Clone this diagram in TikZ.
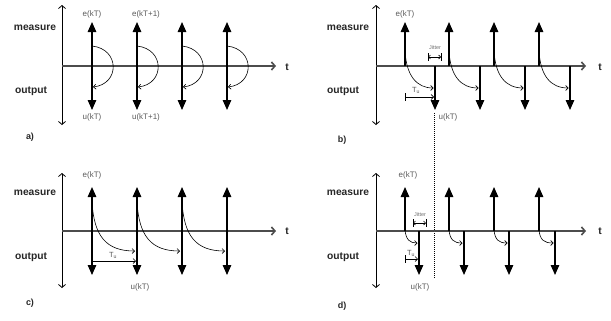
\documentclass[tikz,border=0pt]{standalone}
\usepackage{fontspec}
\setmainfont{Liberation Sans}
\usetikzlibrary{arrows.meta}
\begin{document}
\begin{tikzpicture}[x=1bp,y=-1bp,
  axis/.style={line width=0.8bp,{Straight Barb[length=3bp,width=7bp]}-{Straight Barb[length=3bp,width=7bp]}},
  timeaxis/.style={line width=1.6bp, draw=black!70, -{Straight Barb[length=3.5bp,width=8bp]}},
  event/.style={line width=1.3bp, -{Triangle[length=10bp,width=8.5bp]}},
  bothway/.style={line width=1.3bp, {Triangle[length=10bp,width=8.5bp]}-{Triangle[length=10bp,width=8.5bp]}},
  flow/.style={line width=0.6bp, -{Straight Barb[length=2.5bp,width=5bp]}},
  jit/.style={line width=0.6bp, {Straight Barb[length=2bp,width=4bp]}-{Straight Barb[length=2bp,width=4bp]}},
  tick/.style={line width=0.9bp},
  lbl/.style={font=\bfseries\fontsize{10.3}{12}\selectfont, text=black!85},
  sig/.style={font=\fontsize{8}{10}\selectfont, text=black!65},
  small/.style={font=\fontsize{7.5}{8}\selectfont, text=black!65},
  tiny/.style={font=\fontsize{5.5}{6}\selectfont, text=black!55},
  guide/.style={line width=0.6bp, dash pattern=on 1bp off 1bp}
]
\useasboundingbox (0,0) rectangle (611,320);

% ---------- a) ----------
\draw[axis] (62,5) -- (62,125);
\draw[timeaxis] (62,66) -- (276,66);
\node[lbl] (ta) at (287,67) {t};
\node[lbl] at (35,28) {measure};
\node[lbl] at (31,91) {output};
\node[lbl,font=\bfseries\fontsize{9}{10}\selectfont] at (30,137) {a)};
\foreach \x [count=\i] in {92,137,182,227} {
  \coordinate (ae\i) at (\x,22);
  \coordinate (au\i) at (\x,110);
  \draw[bothway] (ae\i) -- (au\i);
  \draw[flow] (\x,46) .. controls ({\x+28},49) and ({\x+28},84) .. ({\x+1},87);
}
\node[sig] at (92,14) {e(kT)};
\node[sig] at (92,117) {u(kT)};
\node[sig] at (146,14) {e(kT+1)};
\node[sig] at (146,117) {u(kT+1)};

% ---------- b) ----------
\draw[axis] (376,5) -- (376,125);
\draw[timeaxis] (376,66) -- (586,66);
\node[lbl] (tb) at (600,67) {t};
\node[lbl] at (348,28) {measure};
\node[lbl] at (343,91) {output};
\node[lbl,font=\bfseries\fontsize{9}{10}\selectfont] at (342,140) {b)};
\foreach \x/\y [count=\i] in {405/435,449/480,494/525,539/570} {
  \coordinate (be\i) at (\x,22);
  \coordinate (bu\i) at (\y,110);
  \draw[event] (\x,66) -- (be\i);
  \draw[event] (\y,66) -- (bu\i);
  \draw[flow] (\x,50) .. controls ({\x+1},76) and ({\x+12},88) .. ({\y-1.5},88);
}
\node[sig] at (405,14) {e(kT)};
\node[sig] at (448,117) {u(kT)};
% jitter window
\draw[tick] (428,53) -- (428,61);
\draw[tick] (441,53) -- (441,61);
\draw[jit] (428,57) -- (441,57);
\node[tiny] at (435,48) {Jitter};
% output delay
\draw[tick] (405,93) -- (405,101);
\draw[flow] (405,97) -- (434,97);
\node[small] at (416,90) {T\textsubscript{u}};
% reference instant
\draw[guide] (434.5,113) -- (434.5,278);

% ---------- c) ----------
\draw[axis] (62,173) -- (62,288);
\draw[timeaxis] (62,231) -- (276,231);
\node[lbl] (tc) at (287,231) {t};
\node[lbl] at (35,193) {measure};
\node[lbl] at (31,257) {output};
\node[lbl,font=\bfseries\fontsize{9}{10}\selectfont] at (30,303) {c)};
\foreach \x [count=\i] in {92,137,182,227} {
  \coordinate (ce\i) at (\x,187);
  \coordinate (cu\i) at (\x,275);
  \draw[bothway] (ce\i) -- (cu\i);
}
\foreach \x in {92,137,182} {
  \draw[flow] (\x,202) .. controls ({\x+2},236) and ({\x+14},251) .. ({\x+43},251);
}
\draw[flow] (92,261) -- (136,261);
\node[small] at (113,255) {T\textsubscript{u}};
\node[sig] at (92,175) {e(kT)};
\node[sig] at (140,287) {u(kT)};

% ---------- d) ----------
\draw[axis] (376,173) -- (376,288);
\draw[timeaxis] (376,231) -- (586,231);
\node[lbl] (td) at (600,231) {t};
\node[lbl] at (348,193) {measure};
\node[lbl] at (343,257) {output};
\node[lbl,font=\bfseries\fontsize{9}{10}\selectfont] at (342,306) {d)};
\foreach \x/\y [count=\i] in {405/419,449/464,494/509,539/555} {
  \coordinate (de\i) at (\x,187);
  \coordinate (du\i) at (\y,275);
  \draw[event] (\x,231) -- (de\i);
  \draw[event] (\y,231) -- (du\i);
  \draw[flow] (\x,230) .. controls ({\x+1},240) and ({\x+5},243) .. ({\y-1.5},243);
}
\node[sig] at (408,175) {e(kT)};
\node[sig] at (420,287) {u(kT)};
% jitter window
\draw[tick] (413,219) -- (413,227);
\draw[tick] (426,219) -- (426,227);
\draw[jit] (413,223) -- (426,223);
\node[tiny] at (420,215) {Jitter};
% output delay
\draw[tick] (405,255) -- (405,263);
\draw[flow] (405,259) -- (418,259);
\node[small] at (411,253) {T\textsubscript{u}};

\end{tikzpicture}
\end{document}
